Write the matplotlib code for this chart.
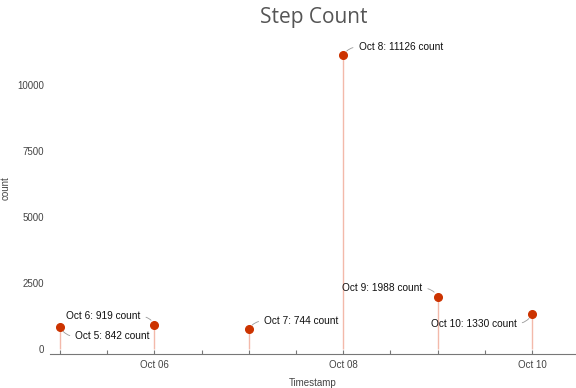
import numpy as np
import pandas as pd
import matplotlib
matplotlib.use("Agg")
import matplotlib.pyplot as plt
import matplotlib.dates as mdates

# data
fechas = pd.to_datetime(["2023-10-05", "2023-10-06", "2023-10-07",
                         "2023-10-08", "2023-10-09", "2023-10-10"])
pasos = [842, 919, 744, 11126, 1988, 1330]
etiquetas = ["Oct 5: 842 count", "Oct 6: 919 count", "Oct 7: 744 count",
             "Oct 8: 11126 count", "Oct 9: 1988 count", "Oct 10: 1330 count"]
desplaz = [(11, -7), (-10, 6), (11, 6), (11, 6), (-11, 6), (-11, -7)]

plt.rcParams['font.family'] = ['Liberation Sans', 'DejaVu Sans']

fig = plt.figure(figsize=(5.76, 3.88), dpi=100)
ax = fig.add_axes([50/576, 1-354/388, 525/576, (354-35)/388])

ax.vlines(fechas, 0, pasos, color='#f3b9aa', linewidth=1, zorder=1)
ax.plot(fechas, pasos, 'o', color='#cc3300', markersize=5.5, zorder=3)

for f, p, t, d in zip(fechas, pasos, etiquetas, desplaz):
    if d[0] > 0:
        ha, rp = 'left', (0, 0.5)
    else:
        ha, rp = 'right', (1, 0.5)
    rad = 0.3 if d[0] * d[1] > 0 else -0.3
    ax.annotate(t, xy=(f, p), xytext=d, textcoords='offset points',
                ha=ha, va='center', fontsize=7.3, color='#111111',
                arrowprops=dict(arrowstyle='-', color='#999999', lw=0.6,
                                connectionstyle='arc3,rad=%s' % rad,
                                relpos=rp, shrinkA=2, shrinkB=4))

x0 = mdates.date2num(pd.Timestamp("2023-10-05"))
ax.set_xlim(x0 - 0.106, x0 + 5.455)
ax.set_ylim(-190, 11900)

ax.xaxis.set_major_locator(mdates.HourLocator(byhour=[0, 12]))
def fmt(x, pos):
    d = mdates.num2date(x)
    if d.hour == 0 and d.day % 2 == 0:
        return d.strftime("Oct %d")
    return ""
ax.xaxis.set_major_formatter(plt.FuncFormatter(fmt))
ax.set_yticks([0, 2500, 5000, 7500, 10000])

for s in ['top', 'right', 'left']:
    ax.spines[s].set_visible(False)
ax.spines['bottom'].set_color('#777777')
ax.tick_params(axis='x', direction='in', length=3, color='#777777',
               labelsize=7, labelcolor='#444444', pad=4)
ax.tick_params(axis='y', length=0, labelsize=7, labelcolor='#444444', pad=4)

ax.set_xlabel("Timestamp", fontsize=7, color='#444444', labelpad=6)
ax.set_ylabel("count", fontsize=7, color='#444444')
ax.yaxis.set_label_coords(-39/525, (354-188)/319)
fig.text(0.545, 0.955, "Step Count", ha='center', va='center',
         fontsize=15, color='#555555', family='Open Sans')

fig.savefig("out.png", dpi=100)
